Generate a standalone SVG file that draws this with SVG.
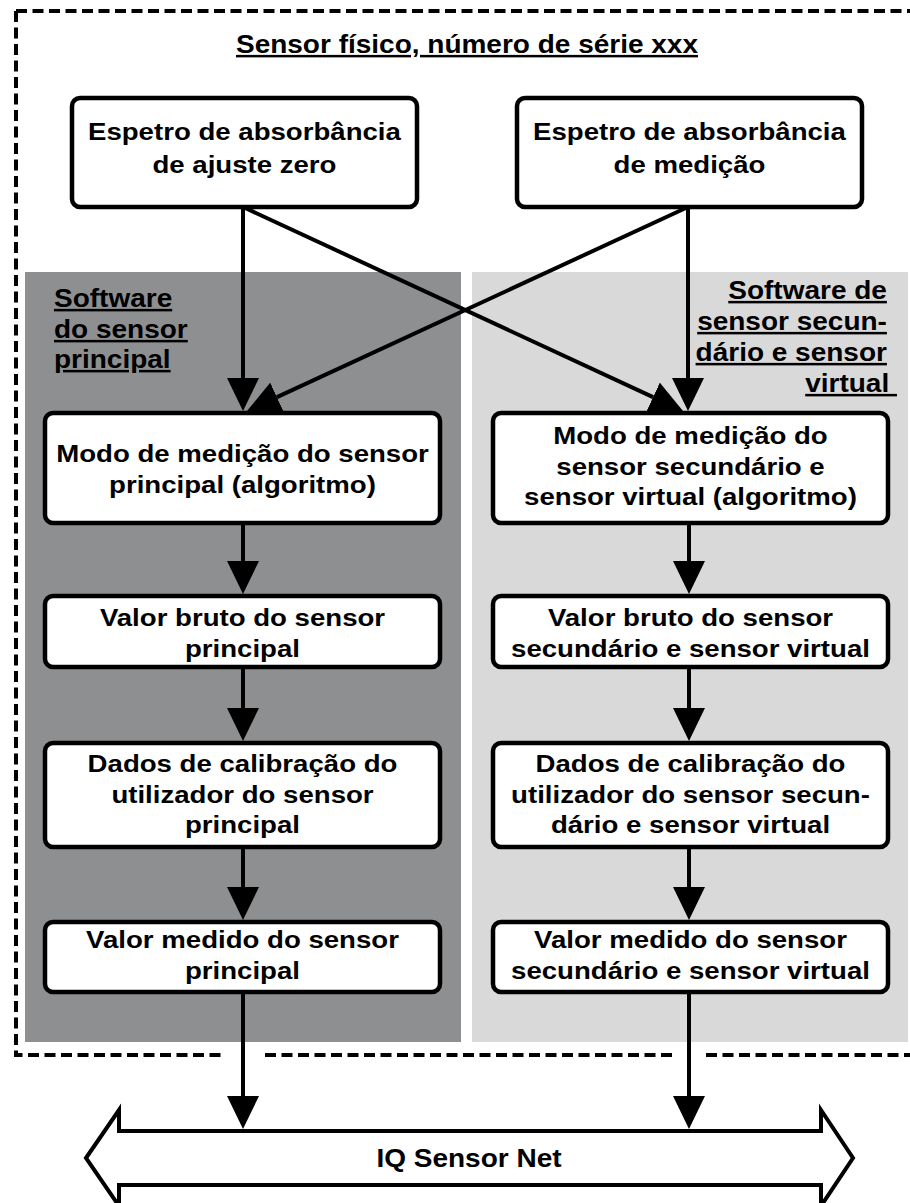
<svg xmlns="http://www.w3.org/2000/svg" width="910" height="1203" viewBox="0 0 910 1203">
<style>
.bx { fill: #fff; stroke: #000; stroke-width: 4.5; }
.t { font-family: "Liberation Sans", Arial, Helvetica, sans-serif; font-weight: bold; font-size: 24px; text-anchor: middle; fill: #000; transform-box: fill-box; transform-origin: center; transform: scaleX(1.15); }
.lab { font-family: "Liberation Sans", Arial, Helvetica, sans-serif; font-weight: bold; font-size: 25px; fill: #000; text-decoration: underline; transform-box: fill-box; transform: scaleX(1.12); }
.l { text-anchor: start; transform-origin: left center; }
.r { text-anchor: end; transform-origin: right center; }
.c { text-anchor: middle; transform-origin: center; }
.dash { fill: none; stroke: #000; stroke-width: 4; stroke-dasharray: 11 5.5; }
.cn { stroke: #000; stroke-width: 4; fill: none; marker-end: url(#ah); }
</style>
<defs>
<marker id="ah" markerUnits="userSpaceOnUse" markerWidth="33" markerHeight="32" viewBox="0 0 33 32" refX="0" refY="16" orient="auto"><path d="M0,0 L33,16 L0,32 z" fill="#000"/></marker>
</defs>
<rect width="910" height="1203" fill="#fff"/>
<g id="panel-principal"><rect x="25" y="272" width="436" height="770" fill="#8e8f91"/><text class="lab l" x="54"><tspan x="54" y="307">Software</tspan><tspan x="54" y="338">do sensor</tspan><tspan x="54" y="368">principal</tspan></text></g>
<g id="panel-secundario"><rect x="472" y="272" width="436" height="770" fill="#d9d9d9"/><text class="lab r" x="888" xml:space="preserve"><tspan x="888" y="299">Software de</tspan><tspan x="888" y="330">sensor secun-</tspan><tspan x="888" y="361">dário e sensor</tspan><tspan x="897" y="392">virtual </tspan></text></g>
<g id="border"><path class="dash" d="M16,11 H910 M16,11 V1055 H224 M265,1055 H672 M706,1055 H910"/></g>
<g id="title"><text class="lab c" x="467" y="53">Sensor físico, número de série xxx</text></g>
<g id="n-zero"><rect class="bx" x="72" y="98" width="345" height="109" rx="8"/><text class="t" x="244.5"><tspan x="244.5" y="140">Espetro de absorbância</tspan><tspan x="244.5" y="173">de ajuste zero</tspan></text></g>
<g id="n-medicao"><rect class="bx" x="517" y="98" width="345" height="109" rx="8"/><text class="t" x="689.5"><tspan x="689.5" y="140">Espetro de absorbância</tspan><tspan x="689.5" y="173">de medição</tspan></text></g>
<g id="n-l1"><rect class="bx" x="45" y="413" width="395" height="110" rx="8"/><text class="t" x="242.5"><tspan x="242.5" y="462">Modo de medição do sensor</tspan><tspan x="242.5" y="493">principal (algoritmo)</tspan></text></g>
<g id="n-l2"><rect class="bx" x="45" y="596" width="395" height="71" rx="8"/><text class="t" x="242.5"><tspan x="242.5" y="626">Valor bruto do sensor</tspan><tspan x="242.5" y="657">principal</tspan></text></g>
<g id="n-l3"><rect class="bx" x="45" y="743" width="395" height="104" rx="8"/><text class="t" x="242.5"><tspan x="242.5" y="772">Dados de calibração do</tspan><tspan x="242.5" y="803">utilizador do sensor</tspan><tspan x="242.5" y="833">principal</tspan></text></g>
<g id="n-l4"><rect class="bx" x="45" y="922" width="395" height="70" rx="8"/><text class="t" x="242.5"><tspan x="242.5" y="948">Valor medido do sensor</tspan><tspan x="242.5" y="979">principal</tspan></text></g>
<g id="n-r1"><rect class="bx" x="493" y="413" width="395" height="110" rx="8"/><text class="t" x="690.5"><tspan x="690.5" y="444">Modo de medição do</tspan><tspan x="690.5" y="475">sensor secundário e</tspan><tspan x="690.5" y="505">sensor virtual (algoritmo)</tspan></text></g>
<g id="n-r2"><rect class="bx" x="493" y="596" width="395" height="71" rx="8"/><text class="t" x="690.5"><tspan x="690.5" y="626">Valor bruto do sensor</tspan><tspan x="690.5" y="657">secundário e sensor virtual</tspan></text></g>
<g id="n-r3"><rect class="bx" x="493" y="743" width="395" height="104" rx="8"/><text class="t" x="690.5"><tspan x="690.5" y="772">Dados de calibração do</tspan><tspan x="690.5" y="803">utilizador do sensor secun-</tspan><tspan x="690.5" y="833">dário e sensor virtual</tspan></text></g>
<g id="n-r4"><rect class="bx" x="493" y="922" width="395" height="70" rx="8"/><text class="t" x="690.5"><tspan x="690.5" y="948">Valor medido do sensor</tspan><tspan x="690.5" y="979">secundário e sensor virtual</tspan></text></g>
<g id="n-bus"><polygon points="86,1158 119,1110 119,1131 821,1131 821,1110 853,1158 821,1206 821,1185 119,1185 119,1206" fill="#fff" stroke="#000" stroke-width="4" stroke-linejoin="miter"/><text class="lab c" x="469" y="1167" style="text-decoration:none">IQ Sensor Net</text></g>
<g id="connectors">
<line class="cn" x1="243" y1="207" x2="243" y2="378"/>
<line class="cn" x1="688" y1="207" x2="688" y2="378"/>
<line class="cn" x1="243" y1="207" x2="653.06" y2="397.12"/>
<line class="cn" x1="688" y1="207" x2="276.95" y2="397.15"/>
<line class="cn" x1="243" y1="523" x2="243" y2="561"/>
<line class="cn" x1="243" y1="667" x2="243" y2="708"/>
<line class="cn" x1="243" y1="847" x2="243" y2="887"/>
<line class="cn" x1="243" y1="992" x2="243" y2="1096"/>
<line class="cn" x1="689" y1="523" x2="689" y2="561"/>
<line class="cn" x1="689" y1="667" x2="689" y2="708"/>
<line class="cn" x1="689" y1="847" x2="689" y2="887"/>
<line class="cn" x1="689" y1="992" x2="689" y2="1096"/>
</g>
</svg>
